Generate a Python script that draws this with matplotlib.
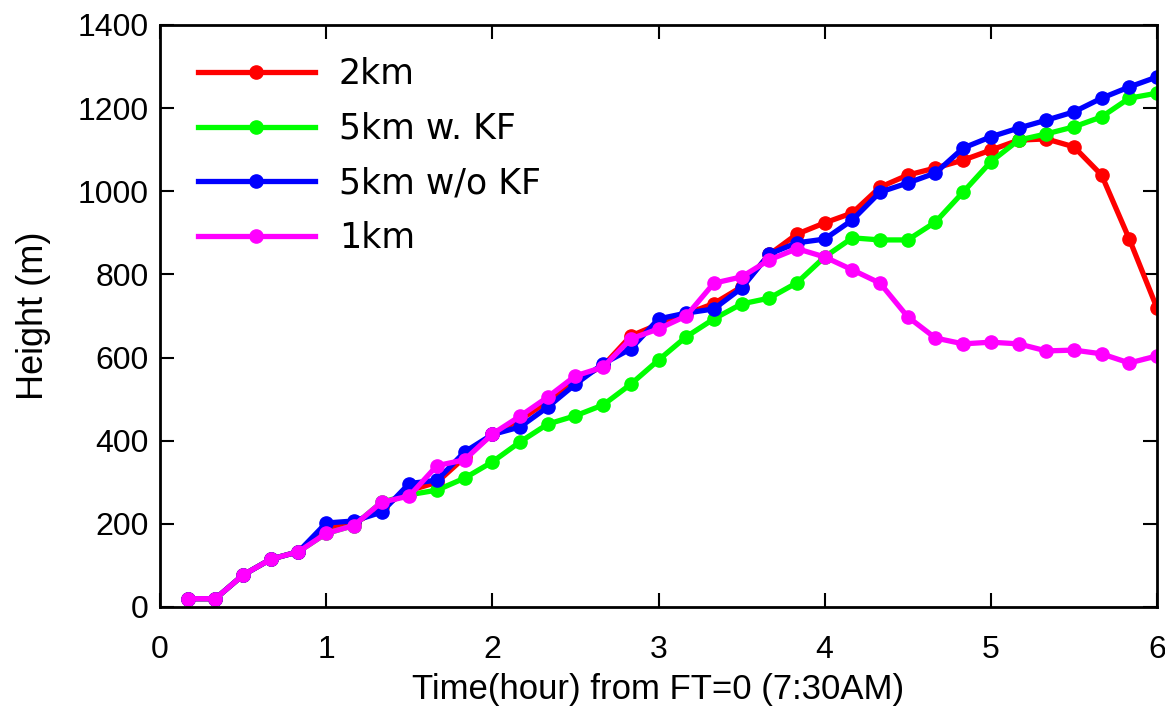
import numpy as np
import matplotlib
matplotlib.use("Agg")
import matplotlib.pyplot as plt

# time every 10 minutes, in hours
steps = np.arange(1, 37)
hours = steps / 6.0

h_2km = [20, 20, 77, 115, 133, 190, 200, 240, 280, 300, 360, 415,
         450, 495, 545, 580, 652, 680, 705, 730, 770, 848, 897, 924,
         948, 1010, 1039, 1056, 1075, 1099, 1123, 1126, 1107, 1039, 885, 719]
h_5km_kf = [20, 20, 77, 115, 133, 177, 196, 252, 270, 281, 310, 349,
            397, 440, 460, 486, 536, 594, 650, 693, 729, 743, 780, 842,
            888, 883, 883, 926, 998, 1071, 1123, 1138, 1155, 1179, 1224, 1236]
h_5km_nokf = [20, 20, 77, 115, 133, 202, 207, 228, 297, 305, 373, 415,
              433, 481, 536, 585, 621, 693, 707, 717, 767, 849, 876, 885,
              931, 998, 1020, 1044, 1104, 1131, 1152, 1171, 1191, 1224, 1251, 1275]
h_1km = [20, 20, 77, 115, 133, 177, 196, 252, 267, 340, 354, 416,
         459, 505, 556, 577, 645, 669, 700, 779, 794, 835, 862, 842,
         811, 779, 698, 647, 633, 637, 633, 616, 618, 609, 587, 604]

series = [
    ("2km", h_2km, "#ff0000"),
    ("5km w. KF", h_5km_kf, "#00ff00"),
    ("5km w/o KF", h_5km_nokf, "#0000ff"),
    ("1km", h_1km, "#ff00ff"),
]

fig = plt.figure(figsize=(11.65, 7.09), dpi=100)
ax = fig.add_axes([160 / 1165, 1 - 607 / 709, 997 / 1165, 582 / 709])

for name, vals, col in series:
    ax.plot(hours, vals, color=col, lw=3.8, marker="o", ms=9.5, label=name)

ax.set_xlim(0, 6)
ax.set_ylim(0, 1400)
ax.set_xticks(range(0, 7))
ax.set_yticks(range(0, 1401, 200))
ax.tick_params(direction="in", length=10, width=1.5, top=True, right=True,
               labelsize=23)
ax.tick_params(axis="x", pad=20)
ax.tick_params(axis="y", pad=8)
for lab in ax.get_xticklabels() + ax.get_yticklabels():
    lab.set_family("Liberation Sans")
for sp in ax.spines.values():
    sp.set_linewidth(2)

ax.set_xlabel("Time(hour) from FT=0 (7:30AM)", fontsize=25, family="Liberation Sans",
              labelpad=6)
ax.set_ylabel("Height (m)", fontsize=26, family="Liberation Sans", labelpad=19)

leg = ax.legend(loc="upper left", bbox_to_anchor=(0.021, 0.975), frameon=False,
                prop={"family": "DejaVu Sans", "size": 25}, handlelength=3.35,
                handletextpad=0.7, labelspacing=0.6, borderpad=0)

fig.savefig("out.png", dpi=100)
